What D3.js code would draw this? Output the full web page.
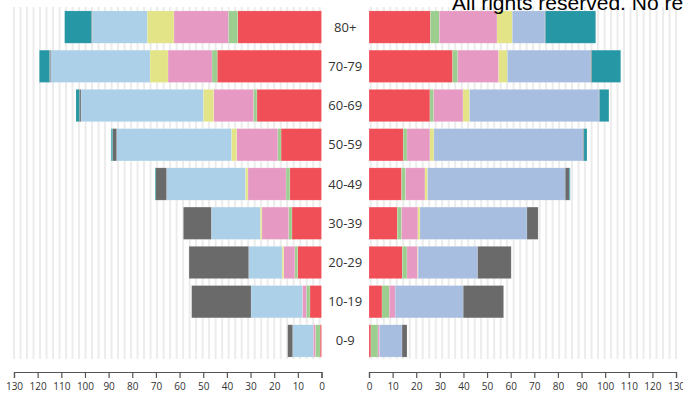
<!DOCTYPE html>
<html><head><meta charset="utf-8">
<script src="https://cdn.jsdelivr.net/npm/d3@7"></script>
<style>
html,body{margin:0;padding:0;background:#fff;overflow:hidden;}
svg{display:block;}
</style></head>
<body>
<script>
const ageGroups = ["80+","70-79","60-69","50-59","40-49","30-39","20-29","10-19","0-9"];
const seriesKeys = ["s1","s2","s3","s4","s5","s6","s7"];
const tickValues = [0,10,20,30,40,50,60,70,80,90,100,110,120,130];

// left side (extends leftwards)
const leftS1 = [35.4, 44.1, 27.3, 17.1, 13.4, 12.5, 10.1, 4.9, 0.6];
const leftS2 = [4.0, 2.2, 1.5, 1.4, 1.6, 1.4, 1.2, 1.5, 2.0];
const leftS3 = [23.0, 18.6, 16.8, 17.4, 16.1, 11.3, 4.7, 1.7, 0.9];
const leftS4 = [11.3, 7.6, 4.4, 2.2, 1.1, 0.7, 0.7, 0, 0];
const leftS5 = [23.3, 42.0, 51.7, 48.5, 33.3, 20.7, 14.1, 21.7, 8.7];
const leftS6 = [0.3, 0.5, 0.7, 1.7, 4.6, 11.8, 25.2, 25.1, 2.1];
const leftS7 = [11.3, 4.3, 1.4, 0.6, 0.3, 0, 0, 0, 0];

// right side
const rightS1 = [26.0, 35.4, 25.8, 14.5, 13.8, 12.0, 14.1, 5.5, 0.8];
const rightS2 = [3.8, 2.2, 1.6, 1.6, 1.7, 1.8, 2.0, 3.1, 3.0];
const rightS3 = [24.4, 17.3, 12.4, 9.7, 8.2, 6.9, 4.5, 2.5, 0.7];
const rightS4 = [6.5, 3.7, 2.8, 1.7, 1.1, 0.9, 0.2, 0, 0];
const rightS5 = [13.8, 35.3, 54.8, 63.2, 58.3, 45.3, 25.2, 28.8, 9.5];
const rightS6 = [0.2, 0.4, 0.2, 0.3, 1.7, 4.7, 14.2, 17.1, 2.1];
const rightS7 = [21.3, 12.3, 4.0, 1.3, 0.4, 0, 0, 0, 0];

const leftColors  = ["#f04f58","#9ccf8f","#e69ac3","#e2e487","#abd0e7","#6a6a6a","#2697a4"];
const rightColors = ["#f04f58","#9ccf8f","#e69ac3","#e2e487","#a7bee0","#6a6a6a","#2697a4"];
const gridStep = 2.75;

const W = 683, H = 401;
const svg = d3.select("body").append("svg").attr("width", W).attr("height", H);

function rows(arrs){
  return ageGroups.map((g,i)=>{
    const o = {age:g};
    seriesKeys.forEach((k,j)=>{ o[k] = arrs[j][i]; });
    return o;
  });
}
const leftData = rows([leftS1,leftS2,leftS3,leftS4,leftS5,leftS6,leftS7]);
const rightData = rows([rightS1,rightS2,rightS3,rightS4,rightS5,rightS6,rightS7]);

const y = d3.scaleBand().domain(ageGroups).range([7, 361]).paddingInner(0.177).paddingOuter(0.1);
const xL = d3.scaleLinear().domain([0,130]).range([321.5, 14]);
const xR = d3.scaleLinear().domain([0,130]).range([369, 676]);

// background stripes
const gridVals = d3.range(0, 130.01, gridStep);
function stripes(x){
  svg.append("g").selectAll("line").data(gridVals).join("line")
    .attr("x1", d=>x(130 - d)).attr("x2", d=>x(130 - d))
    .attr("y1", 7).attr("y2", 359)
    .attr("stroke", "#ececec").attr("stroke-width", 2);
}
stripes(xL); stripes(xR);

const stack = d3.stack().keys(seriesKeys);
function bars(data, x, colors, left){
  const s = stack(data);
  svg.append("g").selectAll("g").data(s).join("g")
    .attr("fill", (d,i)=>colors[i])
    .selectAll("rect").data(d=>d.filter(p=>p[1]-p[0]>0)).join("rect")
    .attr("x", d=> left ? x(d[1]) : x(d[0]))
    .attr("width", d=> Math.abs(x(d[1]) - x(d[0])))
    .attr("y", d=>y(d.data.age))
    .attr("height", y.bandwidth())
    .attr("stroke", "#ffffff").attr("stroke-opacity", 0.25).attr("stroke-width", 0.6);
}
bars(leftData, xL, leftColors, true);
bars(rightData, xR, rightColors, false);

// category labels
svg.append("g").selectAll("text").data(ageGroups).join("text")
  .attr("x", (xL(0)+xR(0))/2)
  .attr("y", d=>y(d)+y.bandwidth()/2)
  .attr("dy", "0.35em")
  .attr("text-anchor","middle")
  .attr("font-family","'Open Sans', sans-serif")
  .attr("font-size", 13)
  .attr("fill","#333")
  .text(d=>d);

// axes
function axis(x){
  const g = svg.append("g").attr("transform","translate(0,372)")
    .call(d3.axisBottom(x).tickValues(tickValues).tickSize(6).tickFormat(d3.format("d")));
  g.select(".domain").attr("stroke","#555").attr("stroke-width",1.2);
  g.selectAll(".tick line").attr("stroke","#555").attr("stroke-width",1.2);
  g.selectAll(".tick text").attr("font-family","'Open Sans', sans-serif").attr("font-size",10).attr("fill","#333").attr("dy","0.9em");
}
axis(xL); axis(xR);

// watermark
svg.append("text").attr("x", 452).attr("y", 10)
  .attr("font-family","'Liberation Sans', Arial, sans-serif")
  .attr("font-size", 21).attr("fill","#000")
  .text("All rights reserved. No reproduction without permission.");
</script>
</body></html>
